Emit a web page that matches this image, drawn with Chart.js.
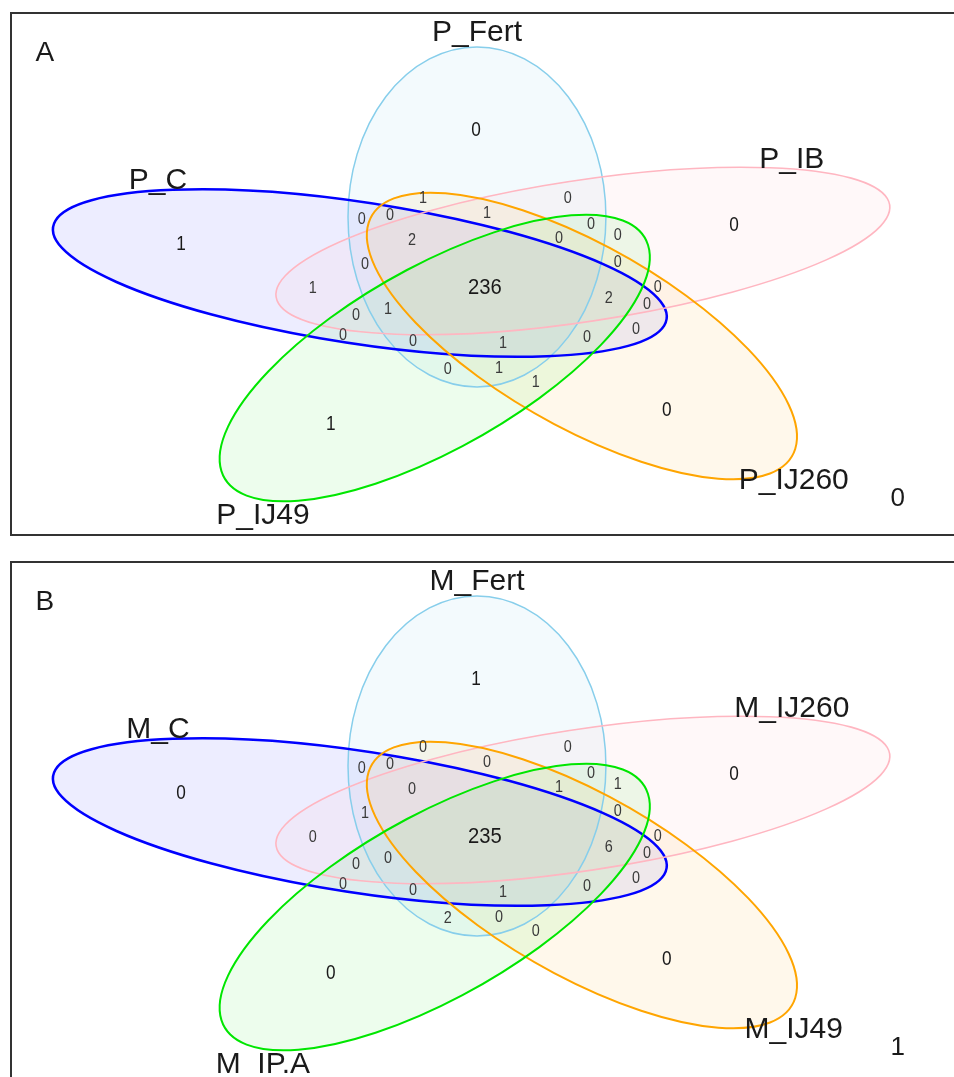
<!DOCTYPE html>
<html>
<head>
<meta charset="utf-8">
<script src="https://cdn.jsdelivr.net/npm/chart.js@4"></script>
<style>
html, body { margin: 0; padding: 0; overflow: hidden; background: #fff; width: 954px; height: 1077px; }
.panel { position: absolute; left: 10px; width: 960px; height: 520px; border: 2px solid #333; }
#pa { top: 12px; }
#pb { top: 561px; }
canvas { display: block; }
</style>
</head>
<body>
<div class="panel" id="pa"><canvas id="chartA" width="960" height="520"></canvas></div>
<div class="panel" id="pb"><canvas id="chartB" width="960" height="520"></canvas></div>
<script>
// set names, same order as the ellipses below
const setsA = ['P_Fert', 'P_C', 'P_IB', 'P_IJ260', 'P_IJ49'];
const setsB = ['M_Fert', 'M_C', 'M_IJ260', 'M_IJ49', 'M_IP.A'];

// region counts: 26 overlap regions, then the 5 single-set regions (Fert, C, pink, orange, green)
const countsA = [1, 0, 0, 0, 1, 2, 0, 0, 0, 0, 0, 1, 236, 0, 2, 0, 1, 0, 0, 0, 1, 0, 0, 0, 1, 1,
                 0, 1, 0, 0, 1];
const countsB = [0, 0, 0, 0, 0, 0, 0, 1, 1, 1, 0, 0, 235, 0, 6, 0, 0, 0, 0, 0, 1, 0, 0, 2, 0, 0,
                 1, 0, 0, 0, 0];
const outsideA = 0;
const outsideB = 1;

// ---- layout (venn units, centre of the diagram = 0,0) ----
const regionX = [-0.200, 0.253, -0.391, -0.303, 0.000, -0.234, 0.325, 0.225, 0.409, -0.381,
                 0.409, -0.544, -0.006, 0.534, 0.381, 0.500, -0.309, -0.409, -0.450, -0.231,
                 0.050, 0.3125, 0.466, -0.122, 0.0375, 0.153,
                 -0.034, -0.956, 0.772, 0.5625, -0.4875];
const regionY = [0.529, 0.529, 0.406, 0.429, 0.441, 0.282, 0.376, 0.294, 0.312, 0.141,
                 0.153, 0.000, 0.006, 0.006, -0.059, -0.094, -0.124, -0.159, -0.276, -0.312,
                 -0.324, -0.288, -0.241, -0.476, -0.471, -0.553,
                 0.935, 0.265, 0.371, -0.712, -0.794];
const labelX = [-0.031, -1.028, 0.953, 0.959, -0.700];
const labelY = [1.512, 0.641, 0.765, -1.124, -1.329];
const outsidePos = { x: 1.284, y: -1.235 };
const letterPos = { x: -1.381, y: 1.388 };

// ellipses: centre, major-axis angle (deg); all share the same semi-axes
const ellX = [-0.031, -0.397, 0.300, 0.297, -0.163];
const ellY = [0.412, 0.082, 0.212, -0.288, -0.418];
const ellRot = [90, 162, 18, -54, 54];
const ellMajor = 1.0, ellMinor = 0.403;
const lineColors = ['#87CEEB', '#0000FF', '#FFB6C1', '#FFA500', '#00E600'];
const fillColors = ['rgba(135,206,235,0.10)', 'rgba(0,0,255,0.07)', 'rgba(255,182,193,0.10)',
                    'rgba(255,165,0,0.08)', 'rgba(0,230,0,0.07)'];
const lineWidths = [1.5, 2.5, 1.6, 2, 2];

const numFont = '"Liberation Sans", Arial, sans-serif';
const labFont = '"Liberation Sans", Arial, sans-serif';

const vennPlugin = {
  id: 'venn',
  beforeDatasetsDraw(chart) {
    const { ctx, scales: { x, y } } = chart;
    const sx = x.getPixelForValue(1) - x.getPixelForValue(0);
    const sy = y.getPixelForValue(0) - y.getPixelForValue(1);
    const shapes = ellX.map((cx, i) => {
      const unit = new Path2D();
      unit.ellipse(0, 0, ellMajor, ellMinor, 0, 0, 2 * Math.PI);
      const m = new DOMMatrix()
        .translate(x.getPixelForValue(cx), y.getPixelForValue(ellY[i]))
        .scale(sx, -sy)
        .rotate(ellRot[i]);
      const path = new Path2D();
      path.addPath(unit, m);
      return path;
    });
    // fill every set, then outline them
    shapes.forEach((path, i) => {
      ctx.fillStyle = fillColors[i];
      ctx.fill(path);
    });
    shapes.forEach((path, i) => {
      ctx.strokeStyle = lineColors[i];
      ctx.lineWidth = lineWidths[i];
      ctx.stroke(path);
    });
  },
  afterDatasetsDraw(chart, args, opts) {
    const { ctx } = chart;
    ctx.save();
    ctx.textAlign = 'center';
    ctx.textBaseline = 'alphabetic';
    // region counts (the reference uses a slightly condensed face)
    chart.getDatasetMeta(0).data.forEach((pt, i) => {
      const single = i >= 26;
      const size = i === 12 ? 22 : (single ? 21 : 16);
      const squash = i === 12 ? 0.92 : (single ? 0.82 : 0.9);
      ctx.save();
      ctx.font = size + 'px ' + numFont;
      ctx.fillStyle = (single || i === 12) ? '#1a1a1a' : '#3a3a3a';
      ctx.translate(pt.x, pt.y + size * 0.36);
      ctx.scale(squash, 1);
      ctx.fillText(String(opts.counts[i]), 0, 0);
      ctx.restore();
    });
    // set names
    ctx.fillStyle = '#1a1a1a';
    ctx.font = '30px ' + labFont;
    chart.getDatasetMeta(1).data.forEach((pt, i) => {
      ctx.fillText(opts.names[i], pt.x, pt.y + 30 * 0.36);
    });
    const extra = chart.getDatasetMeta(2).data;
    ctx.font = '28px ' + labFont;
    ctx.fillText(opts.letter, extra[0].x, extra[0].y + 28 * 0.36);
    ctx.font = '26px ' + labFont;
    ctx.fillText(String(opts.outside), extra[1].x, extra[1].y + 26 * 0.36);
    ctx.restore();
  }
};

function makeVenn(id, names, counts, outside, letter) {
  return new Chart(document.getElementById(id), {
    type: 'scatter',
    data: {
      datasets: [
        { data: regionX.map((x, i) => ({ x, y: regionY[i] })), pointRadius: 0 },
        { data: labelX.map((x, i) => ({ x, y: labelY[i] })), pointRadius: 0 },
        { data: [letterPos, outsidePos], pointRadius: 0 }
      ]
    },
    options: {
      responsive: false,
      animation: false,
      events: [],
      layout: { padding: 0 },
      plugins: {
        legend: { display: false },
        tooltip: { enabled: false },
        venn: { names, counts, outside, letter }
      },
      scales: {
        x: { type: 'linear', min: -1.484, max: 1.516, display: false },
        y: { type: 'linear', min: -1.453, max: 1.606, display: false }
      }
    },
    plugins: [vennPlugin]
  });
}

makeVenn('chartA', setsA, countsA, outsideA, 'A');
makeVenn('chartB', setsB, countsB, outsideB, 'B');
</script>
</body>
</html>
